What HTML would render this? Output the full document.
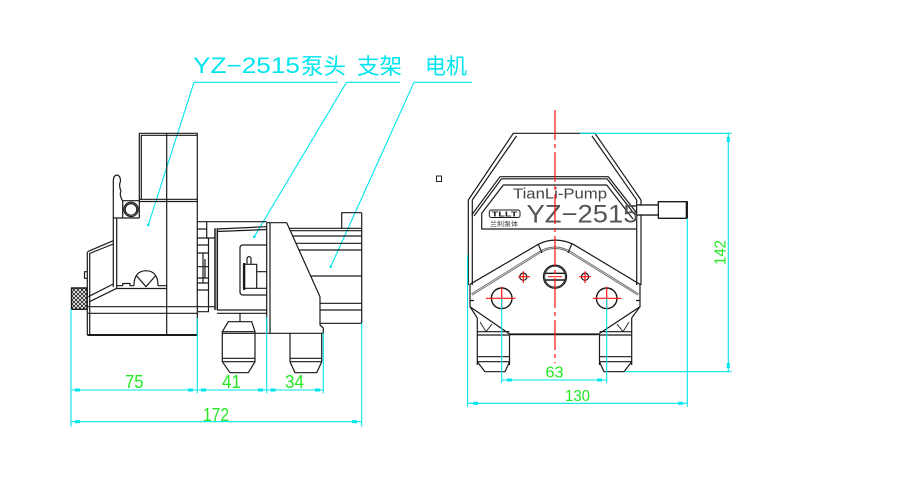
<!DOCTYPE html>
<html><head><meta charset="utf-8"><style>
html,body{margin:0;padding:0;background:#fff;}
svg{display:block;}
</style></head><body>
<svg width="903" height="478" viewBox="0 0 903 478" xmlns="http://www.w3.org/2000/svg">
<rect width="903" height="478" fill="#fff"/>
<defs>
<pattern id="kn" width="4" height="4" patternUnits="userSpaceOnUse">
<path d="M0,0 L4,4 M4,0 L0,4" stroke="#222" stroke-width="0.9"/>
</pattern>
</defs>

<!-- ============ TOP LABELS ============ -->
<g font-family="'Liberation Sans','Noto Sans CJK SC',sans-serif" fill="#00e5ee" font-size="22">
<text x="193" y="73" textLength="107" lengthAdjust="spacingAndGlyphs">YZ−2515</text>
<text x="301" y="74" textLength="45" lengthAdjust="spacingAndGlyphs">泵头</text>
<text x="357" y="74" textLength="45" lengthAdjust="spacingAndGlyphs">支架</text>
<text x="425" y="74" textLength="42" lengthAdjust="spacingAndGlyphs">电机</text>
</g>
<g stroke="#00e5ee" stroke-width="1.1" fill="none">
<path d="M194,82.3 H338"/>
<path d="M346.5,82.3 H400"/>
<path d="M414,82.3 H472"/>
<path d="M194,82.3 L148.3,225"/>
<path d="M346.5,82.3 L254.3,236.7"/>
<path d="M414,82.3 L330.7,266.7"/>
</g>
<g fill="#00e5ee">
<circle cx="148.3" cy="225" r="1.3"/>
<circle cx="254.3" cy="236.7" r="1.3"/>
<circle cx="330.7" cy="266.7" r="1.3"/>
</g>

<!-- small square -->
<rect x="436.5" y="176" width="5" height="5.5" fill="none" stroke="#222" stroke-width="1"/>

<!-- ============ LEFT VIEW ============ -->
<g stroke="#1a1a1a" stroke-width="1.2" fill="none" stroke-linejoin="round">
<path d="M139.3,218 V133.3 H197.3 V335"/>
<path d="M141.3,200 V135.3 H197.3"/>
<path d="M166.7,133.3 V335"/>
<path d="M139.3,199.3 H197.3 M139.3,201.5 H197.3"/>
<path d="M122.7,200.7 H139.3 M122.7,200.7 V218 M113.3,218 H139.3"/>
<circle cx="131" cy="209.4" r="7.2"/>
<circle cx="131" cy="209.4" r="5.8"/>
<path d="M113.3,287 V180 Q113.8,175 117.3,175 Q120.5,176 120.5,181 Q118.5,186 121,191 Q119,195 122.7,201"/>
<path d="M116.7,218 V288"/>
<path d="M113.3,240.7 L87.5,251.7 M113.3,244 L89.5,253.5"/>
<path d="M87.3,252 V335 M89.7,253 V335"/>
<path d="M87.3,271.7 H84.5 V278.3 H87.3"/>
<path d="M113.3,284 L88.3,296.7 M116.7,288.3 L89.5,301.7"/>
<path d="M116.7,285.7 H122.7 V283.5 H130 V285.7 H134 M158,285.7 H166.7"/>
<path d="M116.7,288.5 H166.7"/>
<path d="M134,285.7 Q134,271 146,270.7 Q158,271 158,285.7"/>
<path d="M136.7,276 L146,286.7 L155.3,276"/>
<path d="M87.3,306.7 H197.3 M87.3,313.3 H197.3"/>
<path d="M87.3,335 H197.3" stroke-width="2"/>
<rect x="71.5" y="288" width="15.5" height="21.3" fill="url(#kn)" stroke="#1a1a1a" stroke-width="1.4"/>

<path d="M197.3,221.7 H206.7 V238 H208.5 V311.7 H197.3"/>
<path d="M197.3,229 H206.7 M197.3,238 H208.5 M197.3,245 H208.5 M197.3,253 H208.5 M197.3,266.7 H208.5 M197.3,278 H208.5 M197.3,283 H208.5 M197.3,290 H208.5 M197.3,306.7 H208.5"/>
<path d="M203,253 V283 M205,259 V278"/>
<path d="M208.5,238 H215 M208.5,306.7 H215"/>
<path d="M215,228.3 V310 M217.3,228.3 V310" stroke-width="1.5"/>
<path d="M206.7,221.7 H266.7"/>
<path d="M217,229 L266.7,226.7 M217,231.5 L266.7,229.5"/>
<path d="M217,310 H266.7 M217,313.3 H266.7"/>
<path d="M266.7,245 H243 Q240,245 240,248 V292 Q240,295 243,295 H266.7"/>
<rect x="243.5" y="264.3" width="13.2" height="24"/>
<path d="M244.2,263 V290" stroke-width="2.2"/>
<path d="M247,264.3 V258 Q249,255 251,258 V264.3"/>
<path d="M256.7,271.7 H266.7 M256.7,288.3 H266.7"/>
<path d="M240,313.3 V321.7"/>
<path d="M266.7,222.7 H286.7 L320,296.7 V325 L323.3,328 V333.3"/>
<path d="M266.7,222.7 V333.3 M270,222.7 V333.3"/>
<path d="M221.7,333.3 H323.3"/>
<path d="M361.7,212.7 V323.3"/>
<path d="M341.7,228.3 V212.7 H361.7"/>
<path d="M289.1,228.3 H361.7 M290.3,230.7 H361.7 M292.7,236 H361.7 M296,243.3 H361.7 M299,250 H361.7 M310.7,276 H361.7 M320,303.3 H361.7 M320,310 H361.7 M320,323.3 H361.7"/>
<path d="M228.3,321.7 H251.7 L255,331.7 H222.3 Z"/>
<path d="M222.3,331.7 V358.3 H255 V331.7"/>
<path d="M222.3,358.3 V361.7 L230,372.7 H248.3 L255,361.7 V358.3 M222.3,361.7 H255"/>
<path d="M290,333.3 V358.3 H321.7 V333.3"/>
<path d="M290,358.3 V361.7 L295,372.7 H316.7 L321.7,361.7 V358.3 M290,361.7 H321.7"/>
</g>

<g stroke="#00e5ee" stroke-width="1.1" fill="none">
<path d="M71,309 V426.7"/>
<path d="M197.3,318 V393.3"/>
<path d="M266.7,316.7 V393.3"/>
<path d="M323.3,333 V393.3"/>
<path d="M361.7,323.3 V426.7"/>
<path d="M71,390 H323.3"/>
<path d="M71,421.7 H361.7"/>
</g>
<g fill="#00e5ee">
<rect x="75" y="388.5" width="5" height="3"/>
<rect x="188" y="388.5" width="5" height="3"/>
<rect x="201" y="388.5" width="5" height="3"/>
<rect x="258" y="388.5" width="5" height="3"/>
<rect x="270.5" y="388.5" width="5" height="3"/>
<rect x="315" y="388.5" width="5" height="3"/>
<rect x="75" y="420.2" width="5" height="3"/>
<rect x="352" y="420.2" width="5" height="3"/>
</g>
<g font-family="'Liberation Sans',sans-serif" fill="#22e822" font-size="18">
<text x="125" y="388" textLength="18.5" lengthAdjust="spacingAndGlyphs">75</text>
<text x="222" y="388" textLength="19" lengthAdjust="spacingAndGlyphs">41</text>
<text x="285" y="388" textLength="19" lengthAdjust="spacingAndGlyphs">34</text>
<text x="203" y="421" textLength="26" lengthAdjust="spacingAndGlyphs">172</text>
</g>

<!-- ============ RIGHT VIEW ============ -->
<g stroke="#1a1a1a" stroke-width="1.2" fill="none" stroke-linejoin="round">
<path d="M468.3,200 L513.3,133.3 H580"/>
<path d="M472.3,200 L516.5,136"/>
<path d="M580,133.3 H595 L641,200"/>
<path d="M592,136 L636.7,200"/>
<path d="M468.3,200 V285 M472.3,200 V285"/>
<path d="M641,200 V285 M636.7,200 V285"/>
<path d="M471.7,215 L500,176.7 H608.3 L636.7,213"/>
<path d="M474,216 L501.5,178.8 H607 L634.7,214.5"/>
<path d="M633,219 L606.7,185 H503.3 L481.7,213.3 V229 H636"/>
<rect x="489.3" y="210" width="30.7" height="7.5" rx="2" stroke-width="1"/>
<rect x="636.7" y="205" width="21.6" height="10" stroke-width="1.2"/>
<rect x="658.3" y="201.7" width="29" height="16.6" stroke-width="1.3"/>
<path d="M686.8,202 V218" stroke-width="2.2"/>
<path d="M470,306.7 V284.3 L538.3,244.3 Q555,236 573.3,244.3 L640,284.3 V306.7 L598.3,334.3 H510 Z"/>
<path d="M598.3,334.3 H510" stroke-width="1.8"/>
<path d="M471.7,294.5 L540,252 Q555,243.5 570,252 L638.3,294.5" stroke="#6a6a6a" stroke-width="2.4"/>
<path d="M471.7,294.5 L540,252 Q555,243.5 570,252 L638.3,294.5" stroke="#fff" stroke-width="0.6"/>
<path d="M538.3,244.3 L542,253 M571.7,244.3 L568,253"/>
<path d="M470,300.5 L474,300.5 M640,300.5 L636,300.5"/>
<circle cx="555" cy="276.7" r="11.5" stroke-width="1.3"/>
<circle cx="555" cy="276.7" r="10.3" stroke-width="0.8"/>
<path d="M545.5,273.3 H564.5 M545.5,280 H564.5" stroke-width="1.4"/>
<circle cx="523.3" cy="276.7" r="3.6"/>
<circle cx="585" cy="276.7" r="3.6"/>
<circle cx="501.7" cy="298.3" r="10.3" stroke-width="1.4"/>
<circle cx="606.7" cy="298.3" r="10.3" stroke-width="1.4"/>
<path d="M477.3,318 V365 M509.5,334.3 V365"/>
<path d="M470,306.7 L477.3,318"/>
<path d="M480,322 L486,331.7 L492,324" stroke-width="0.9"/>
<path d="M477.3,331.7 H509.5 M477.3,335 H509.5 M477.3,356.7 H509.5"/>
<path d="M477.3,361.7 L485,371.7 H505 L509.5,361.7 M477.3,361.7 H509.5"/>
<path d="M631.7,318 V365 M599.5,334.3 V365"/>
<path d="M640,306.7 L631.7,318"/>
<path d="M629,322 L623,331.7 L617,324" stroke-width="0.9"/>
<path d="M599.5,331.7 H631.7 M599.5,335 H631.7 M599.5,356.7 H631.7"/>
<path d="M599.5,361.7 L604,371.7 H624 L631.7,361.7 M599.5,361.7 H631.7"/>
</g>
<g font-family="'Liberation Sans','Noto Sans CJK SC',sans-serif">
<text x="513" y="198.5" font-size="15" fill="#444" textLength="94" lengthAdjust="spacingAndGlyphs">TianLi-Pump</text>
<text x="526.5" y="222.5" font-size="25" fill="#555" textLength="112" lengthAdjust="spacingAndGlyphs">YZ−2515</text>
<text x="491.5" y="216.5" font-size="7" font-weight="bold" fill="#222" textLength="26" lengthAdjust="spacingAndGlyphs">TLLT</text>
<text x="490" y="226" font-size="6.5" fill="#333" textLength="28" lengthAdjust="spacingAndGlyphs">兰利泵体</text>
</g>
<rect x="637.3" y="205.6" width="20.4" height="8.8" fill="#fff" stroke="none"/>
<path d="M636.7,205 H658.3 M636.7,215 H658.3" stroke="#1a1a1a" stroke-width="1.2"/>

<g stroke="#ff1010" stroke-width="1.2" fill="none">
<path d="M555,110 V363.3" stroke-dasharray="30,4,4,4"/>
<path d="M486,298.3 H515.5 M501.7,286.7 V310"/>
<path d="M593,298.3 H621.5 M606.7,286.7 V310"/>
<path d="M518.3,276.7 H530 M523.3,271.3 V283"/>
<path d="M579,276.7 H591 M585,271.3 V283"/>
<path d="M548,276.7 H562" stroke-width="1"/>
</g>

<g stroke="#00e5ee" stroke-width="1.1" fill="none">
<path d="M580,133.3 H731.7"/>
<path d="M625,371.7 H731.7"/>
<path d="M728.3,133.3 V371.7"/>
<path d="M467.5,255 V406.7"/>
<path d="M687.3,218.3 V406.7"/>
<path d="M467.5,403.3 H687.3"/>
<path d="M501.7,298.3 V383"/>
<path d="M606.7,298.3 V383"/>
<path d="M501.7,380 H606.7"/>
</g>
<g fill="#00e5ee">
<rect x="726.8" y="137" width="3" height="5"/>
<rect x="726.8" y="363" width="3" height="5"/>
<rect x="473" y="401.8" width="5" height="3"/>
<rect x="678" y="401.8" width="5" height="3"/>
<rect x="507" y="378.5" width="5" height="3"/>
<rect x="597" y="378.5" width="5" height="3"/>
</g>
<g font-family="'Liberation Sans',sans-serif" fill="#22e822" font-size="16">
<text x="545.5" y="377.5" textLength="18" lengthAdjust="spacingAndGlyphs">63</text>
<text x="565" y="400.8" textLength="25" lengthAdjust="spacingAndGlyphs">130</text>
<text x="0" y="0" transform="translate(725.5,265) rotate(-90)" textLength="25" lengthAdjust="spacingAndGlyphs">142</text>
</g>
</svg>
</body></html>
